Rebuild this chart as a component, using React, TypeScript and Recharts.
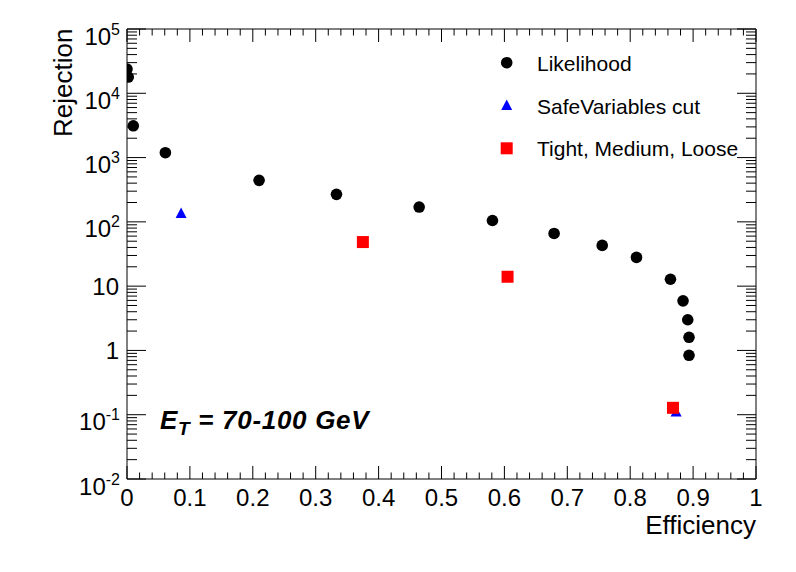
import React from "react";
import {
  ScatterChart,
  Scatter,
  XAxis,
  YAxis,
  ReferenceArea,
  Legend,
} from "recharts";

// values
const likelihoodEff = [
  0.0, 0.002, 0.01, 0.061, 0.21, 0.333, 0.4645, 0.581, 0.679, 0.7555, 0.81,
  0.864, 0.884, 0.8915, 0.8935, 0.8935,
];
const likelihoodRej = [
  23800, 17900, 3120, 1190, 442, 268, 170, 105, 66, 43, 28, 12.8, 5.9, 3.0,
  1.6, 0.84,
];
const safeEff = [0.086, 0.873];
const safeRej = [135, 0.11];
const menuEff = [0.375, 0.605, 0.868];
const menuRej = [48.5, 14.0, 0.128];

const xTickLabels = ["0", "0.1", "0.2", "0.3", "0.4", "0.5", "0.6", "0.7", "0.8", "0.9", "1"];
const yExponents = [-2, -1, 0, 1, 2, 3, 4, 5];

const W = 796;
const H = 572;
const LEFT = 127;
const RIGHT = 40;
const TOP = 29;
const BOTTOM = 93;
const PLOT_W = W - LEFT - RIGHT;
const PLOT_H = H - TOP - BOTTOM;
const FONT = "'Liberation Sans', Arial, Helvetica, sans-serif";

const toPoints = (xs: number[], ys: number[]) =>
  xs.map((x, i) => ({ x, y: ys[i] }));

const likelihoodData = toPoints(likelihoodEff, likelihoodRej);
const safeData = toPoints(safeEff, safeRej);
const menuData = toPoints(menuEff, menuRej);

// 0.02 steps, every fifth one is a labelled major tick
const xTicks: number[] = [];
for (let i = 0; i <= 50; i++) xTicks.push(Math.round(i * 2) / 100);

const yTicks: number[] = [];
for (let k = -2; k < 5; k++) {
  for (let m = 1; m <= 9; m++) yTicks.push(Number((m * Math.pow(10, k)).toPrecision(6)));
}
yTicks.push(100000);

const XTick = (props: any) => {
  const { x, y, payload } = props;
  const v = payload.value as number;
  const idx = Math.round(v * 50);
  const major = idx % 5 === 0;
  const len = major ? 13 : 6.5;
  return (
    <g>
      <line x1={x} y1={y} x2={x} y2={y - len} stroke="#000" />
      <line x1={x} y1={y - PLOT_H} x2={x} y2={y - PLOT_H + len} stroke="#000" />
      {major && (
        <text x={x} y={y + 27} textAnchor="middle" fontSize={24} fontFamily={FONT} fill="#000">
          {xTickLabels[idx / 5]}
        </text>
      )}
    </g>
  );
};

const YTick = (props: any) => {
  const { x, y, payload } = props;
  const v = payload.value as number;
  const lg = Math.log10(v);
  const major = Math.abs(lg - Math.round(lg)) < 1e-9;
  const len = major ? 19 : 10;
  const k = Math.round(lg);
  let label: React.ReactNode = null;
  if (major && yExponents.includes(k)) {
    if (k === 0 || k === 1) {
      label = (
        <text x={x - 8} y={y + 9} textAnchor="end" fontSize={24} fontFamily={FONT} fill="#000">
          {k === 0 ? "1" : "10"}
        </text>
      );
    } else {
      label = (
        <text x={x - 7} y={y + 15.5} textAnchor="end" fontSize={24} fontFamily={FONT} fill="#000">
          <tspan>10</tspan>
          <tspan dy={-10} fontSize={16}>
            {k}
          </tspan>
        </text>
      );
    }
  }
  return (
    <g>
      <line x1={x} y1={y} x2={x + len} y2={y} stroke="#000" />
      <line x1={x + PLOT_W} y1={y} x2={x + PLOT_W - len} y2={y} stroke="#000" />
      {label}
    </g>
  );
};

const Circle = (props: any) => <circle cx={props.cx} cy={props.cy} r={5.8} fill="#000" />;

const Triangle = (props: any) => {
  const { cx, cy } = props;
  return (
    <polygon
      points={`${cx},${cy - 6} ${cx - 5.5},${cy + 4.5} ${cx + 5.5},${cy + 4.5}`}
      fill="#0000ff"
    />
  );
};

const Square = (props: any) => (
  <rect x={props.cx - 6} y={props.cy - 6} width={12} height={12} fill="#ff0000" />
);

const legendRows = [
  { name: "Likelihood", shape: Circle },
  { name: "SafeVariables cut", shape: Triangle },
  { name: "Tight, Medium, Loose", shape: Square },
];

const LegendBox = () => (
  <svg width={W} height={H} style={{ position: "absolute", left: 0, top: 0 }}>
    {legendRows.map((row, i) => {
      const cy = 62.7 + i * 42.8;
      const Shape = row.shape;
      return (
        <g key={row.name}>
          <Shape cx={506.7} cy={cy} />
          <text x={537} y={cy + 8} fontSize={21} fontFamily={FONT} fill="#000">
            {row.name}
          </text>
        </g>
      );
    })}
  </svg>
);

export default function App() {
  return (
    <div style={{ position: "absolute", left: 0, top: 0, width: W, height: H, background: "#fff" }}>
      <ScatterChart
        width={W}
        height={H}
        margin={{ top: TOP, right: RIGHT, bottom: 0, left: 0 }}
      >
        <XAxis
          dataKey="x"
          type="number"
          domain={[0, 1]}
          allowDataOverflow
          ticks={xTicks}
          interval={0}
          tick={<XTick />}
          tickLine={false}
          axisLine={false}
          tickSize={0}
          tickMargin={0}
          height={BOTTOM}
        />
        <YAxis
          dataKey="y"
          type="number"
          scale="log"
          domain={[0.01, 100000]}
          allowDataOverflow
          ticks={yTicks}
          interval={0}
          tick={<YTick />}
          tickLine={false}
          axisLine={false}
          tickSize={0}
          tickMargin={0}
          width={LEFT}
        />
        <ReferenceArea
          x1={0}
          x2={1}
          y1={0.01}
          y2={100000}
          fill="none"
          stroke="#000"
          strokeWidth={1}
          ifOverflow="visible"
        />
        <Scatter name="Likelihood" data={likelihoodData} shape={<Circle />} isAnimationActive={false} />
        <Scatter name="SafeVariables cut" data={safeData} shape={<Triangle />} isAnimationActive={false} />
        <Scatter name="Tight, Medium, Loose" data={menuData} shape={<Square />} isAnimationActive={false} />
        <Legend
          layout="vertical"
          align="center"
          verticalAlign="middle"
          content={<LegendBox />}
          wrapperStyle={{ left: 0, top: 0, width: W, height: H, pointerEvents: "none" }}
        />
      </ScatterChart>
      <svg width={W} height={H} style={{ position: "absolute", left: 0, top: 0, pointerEvents: "none" }}>
        <text
          x={72}
          y={28.5}
          transform="rotate(-90, 72, 28.5)"
          textAnchor="end"
          fontSize={26}
          fontFamily={FONT}
          fill="#000"
        >
          Rejection
        </text>
        <text x={756} y={534} textAnchor="end" fontSize={26} fontFamily={FONT} fill="#000">
          Efficiency
        </text>
        <text
          x={160}
          y={429}
          fontSize={26}
          fontWeight="bold"
          fontStyle="italic"
          fontFamily={FONT}
          letterSpacing={0.7}
          fill="#000"
        >
          <tspan>E</tspan>
          <tspan dy={6} fontSize={19}>
            T
          </tspan>
          <tspan dy={-6}> = 70-100 GeV</tspan>
        </text>
      </svg>
    </div>
  );
}
